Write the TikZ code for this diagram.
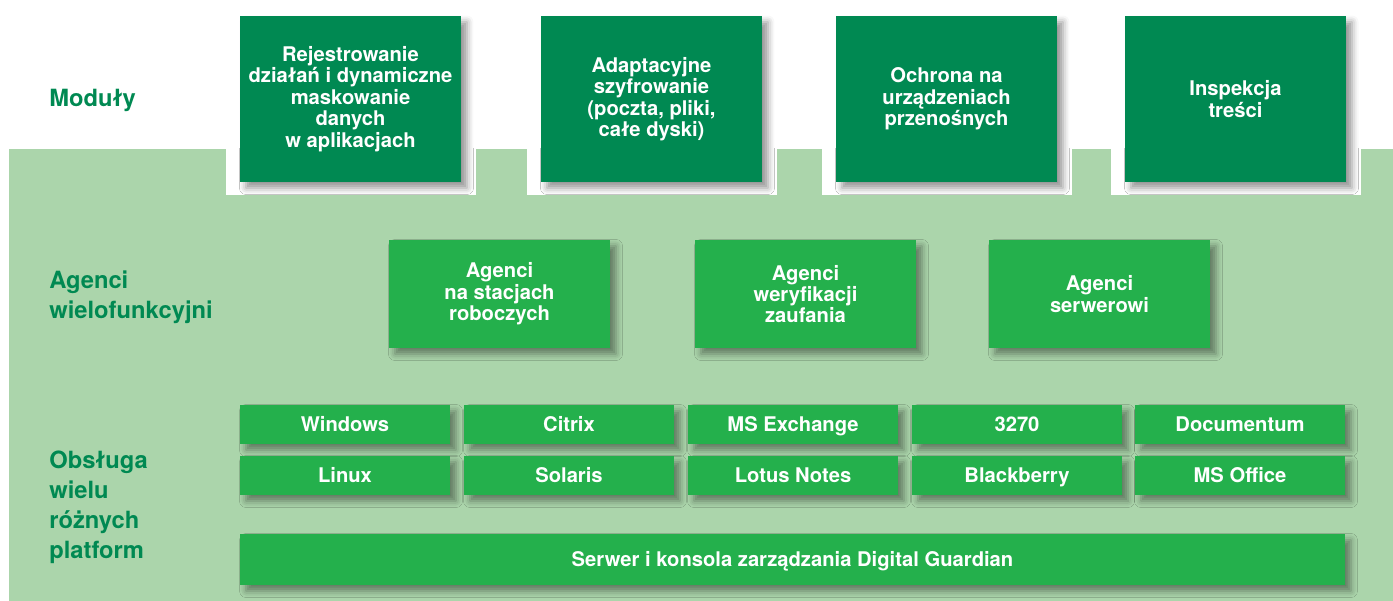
\documentclass[tikz,border=0pt]{standalone}
\usepackage{fontspec}
\setmainfont{TeX Gyre Heros}
\usetikzlibrary{shadows.blur}

\definecolor{modgreen}{RGB}{0,137,82}
\definecolor{agentgreen}{RGB}{36,176,76}
\definecolor{panelgreen}{RGB}{171,213,171}

\begin{document}
\begin{tikzpicture}[x=0.02cm, y=-0.02cm,
        softshadow/.style={blur shadow={shadow xshift=0.12cm, shadow yshift=-0.12cm, shadow blur radius=0.13cm, shadow opacity=42}},
        modbox/.style={rectangle, fill=modgreen, text=white, minimum width=4.42cm, minimum height=3.32cm, inner sep=0pt, align=center, font=\fontsize{11.5}{12.2}\selectfont\bfseries, softshadow},
        agentbox/.style={rectangle, fill=agentgreen, text=white, minimum width=4.42cm, minimum height=2.16cm, inner sep=0pt, align=center, font=\fontsize{11.5}{12.2}\selectfont\bfseries, softshadow},
        platbox/.style={rectangle, fill=agentgreen, text=white, minimum width=4.2cm, minimum height=0.78cm, inner sep=0pt, text height=8.3pt, text depth=0.5pt, font=\fontsize{11.5}{13}\selectfont\bfseries, softshadow},
        rowlabel/.style={text=modgreen, inner sep=0pt, align=left, font=\fontsize{13.5}{17}\selectfont\bfseries}
    ]
        \useasboundingbox (0,0) rectangle (1393,601);

        % light panel with white cut-outs round the module boxes
        \fill[panelgreen] (9,149) rectangle (1393,601);
        \foreach \l/\r in {240/461, 541/762, 836/1057, 1125/1346}
            \fill[white] (\l-14,148) rectangle (\r+15,195);

        % row labels
        \node[rowlabel, anchor=base west] (lmod) at (49,107) {Moduły};
        \node[rowlabel, anchor=west] (lagent) at (49,297) {Agenci\\wielofunkcyjni};
        \node[rowlabel, anchor=west] (lplat) at (49,507) {Obsługa\\wielu\\różnych\\platform};

        % modules
        \node[modbox] (logging) at (350.5,99) {Rejestrowanie\\działań i dynamiczne\\maskowanie\\danych\\w aplikacjach};
        \node[modbox] (encrypt) at (651.5,99) {Adaptacyjne\\szyfrowanie\\(poczta, pliki,\\całe dyski)};
        \node[modbox] (portable) at (946.5,99) {Ochrona na\\urządzeniach\\przenośnych};
        \node[modbox] (inspect) at (1235.5,99) {Inspekcja\\treści};

        % agents
        \node[agentbox] (workstation) at (499.5,294) {Agenci\\na stacjach\\roboczych};
        \node[agentbox] (trust) at (805.5,294) {Agenci\\weryfikacji\\zaufania};
        \node[agentbox] (server) at (1099.5,294) {Agenci\\serwerowi};

        % platforms
        \node[platbox] (windows) at (345,424.5) {Windows};
        \node[platbox] (citrix) at (569,424.5) {Citrix};
        \node[platbox] (exchange) at (793,424.5) {MS Exchange};
        \node[platbox] (ibm) at (1017,424.5) {3270};
        \node[platbox] (documentum) at (1240,424.5) {Documentum};
        \node[platbox] (linux) at (345,475.5) {Linux};
        \node[platbox] (solaris) at (569,475.5) {Solaris};
        \node[platbox] (lotus) at (793,475.5) {Lotus Notes};
        \node[platbox] (blackberry) at (1017,475.5) {Blackberry};
        \node[platbox] (office) at (1240,475.5) {MS Office};

        \node[platbox, minimum width=22.1cm, minimum height=1.02cm] (console) at (792.5,559.5) {Serwer i konsola zarządzania Digital Guardian};
    \end{tikzpicture}
\end{document}
